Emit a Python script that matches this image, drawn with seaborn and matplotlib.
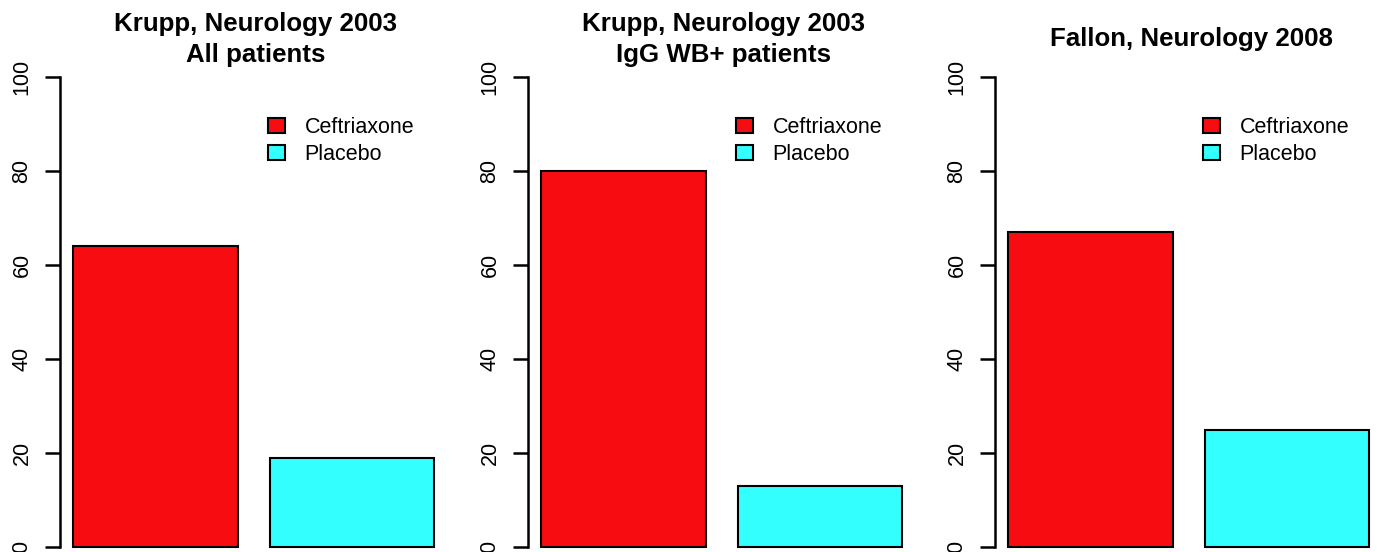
import matplotlib
matplotlib.use("Agg")
import matplotlib.pyplot as plt
from matplotlib.patches import Patch
import seaborn as sns

# Data (percent of patients)
treatments = ["Ceftriaxone", "Placebo"]
titles = ["Krupp, Neurology 2003\nAll patients",
          "Krupp, Neurology 2003\nIgG WB+ patients",
          "Fallon, Neurology 2008"]
ceftriaxone = [64, 80, 67]
placebo = [19, 13, 25]
yticks = [0, 20, 40, 60, 80, 100]

colors = ["#F70C12", "#33FFFF"]

sns.set_style("white")
plt.rcParams['font.family'] = ['Liberation Sans', 'DejaVu Sans']
plt.rcParams['text.color'] = 'black'
plt.rcParams['ytick.color'] = 'black'

W, H = 1377, 552
fig = plt.figure(figsize=(W / 100, H / 100), dpi=100)

# panel layout in pixels (plot regions run slightly past the image edges)
lefts = [60, 528, 995]
width_px, top_px, bottom_px = 392, 58, 566

for i in range(3):
    ax = fig.add_axes([lefts[i] / W, (H - bottom_px) / H,
                       width_px / W, (bottom_px - top_px) / H])
    vals = [ceftriaxone[i], placebo[i]]
    sns.barplot(x=treatments, y=vals, hue=treatments, palette=colors,
                saturation=1, width=0.837, edgecolor="black",
                linewidth=1.5, legend=False, ax=ax)
    ax.set_xlim(-0.486, 1.509)
    ax.set_ylim(-4, 104)
    ax.set_xticks([])
    ax.set_xlabel("")
    ax.set_ylabel("")
    ax.set_yticks(yticks)
    ax.set_yticklabels([str(t) for t in yticks], rotation=90, va="center",
                       fontsize=15.5, color="black")
    ax.tick_params(axis="y", direction="out", length=10.8, width=1.8,
                   pad=9, left=True, colors="black")
    for s in ["top", "right", "bottom"]:
        ax.spines[s].set_visible(False)
    ax.spines["left"].set_bounds(0, 100)
    ax.spines["left"].set_linewidth(1.8)
    ax.spines["left"].set_color("black")

    ax.set_title(titles[i], fontsize=18.6, fontweight="bold", y=1.037,
                 va="center", pad=0, linespacing=1.38, color="black")

    handles = [Patch(facecolor=c, edgecolor="black", linewidth=1.5)
               for c in colors]
    ax.legend(handles, treatments, loc="upper left",
              bbox_to_anchor=(0.531, 0.884), frameon=False, fontsize=15.5,
              handlelength=0.8, handleheight=0.7, handletextpad=0.9,
              labelspacing=0.3, borderpad=0, borderaxespad=0,
              labelcolor="black")

fig.savefig("out.png", dpi=100)
